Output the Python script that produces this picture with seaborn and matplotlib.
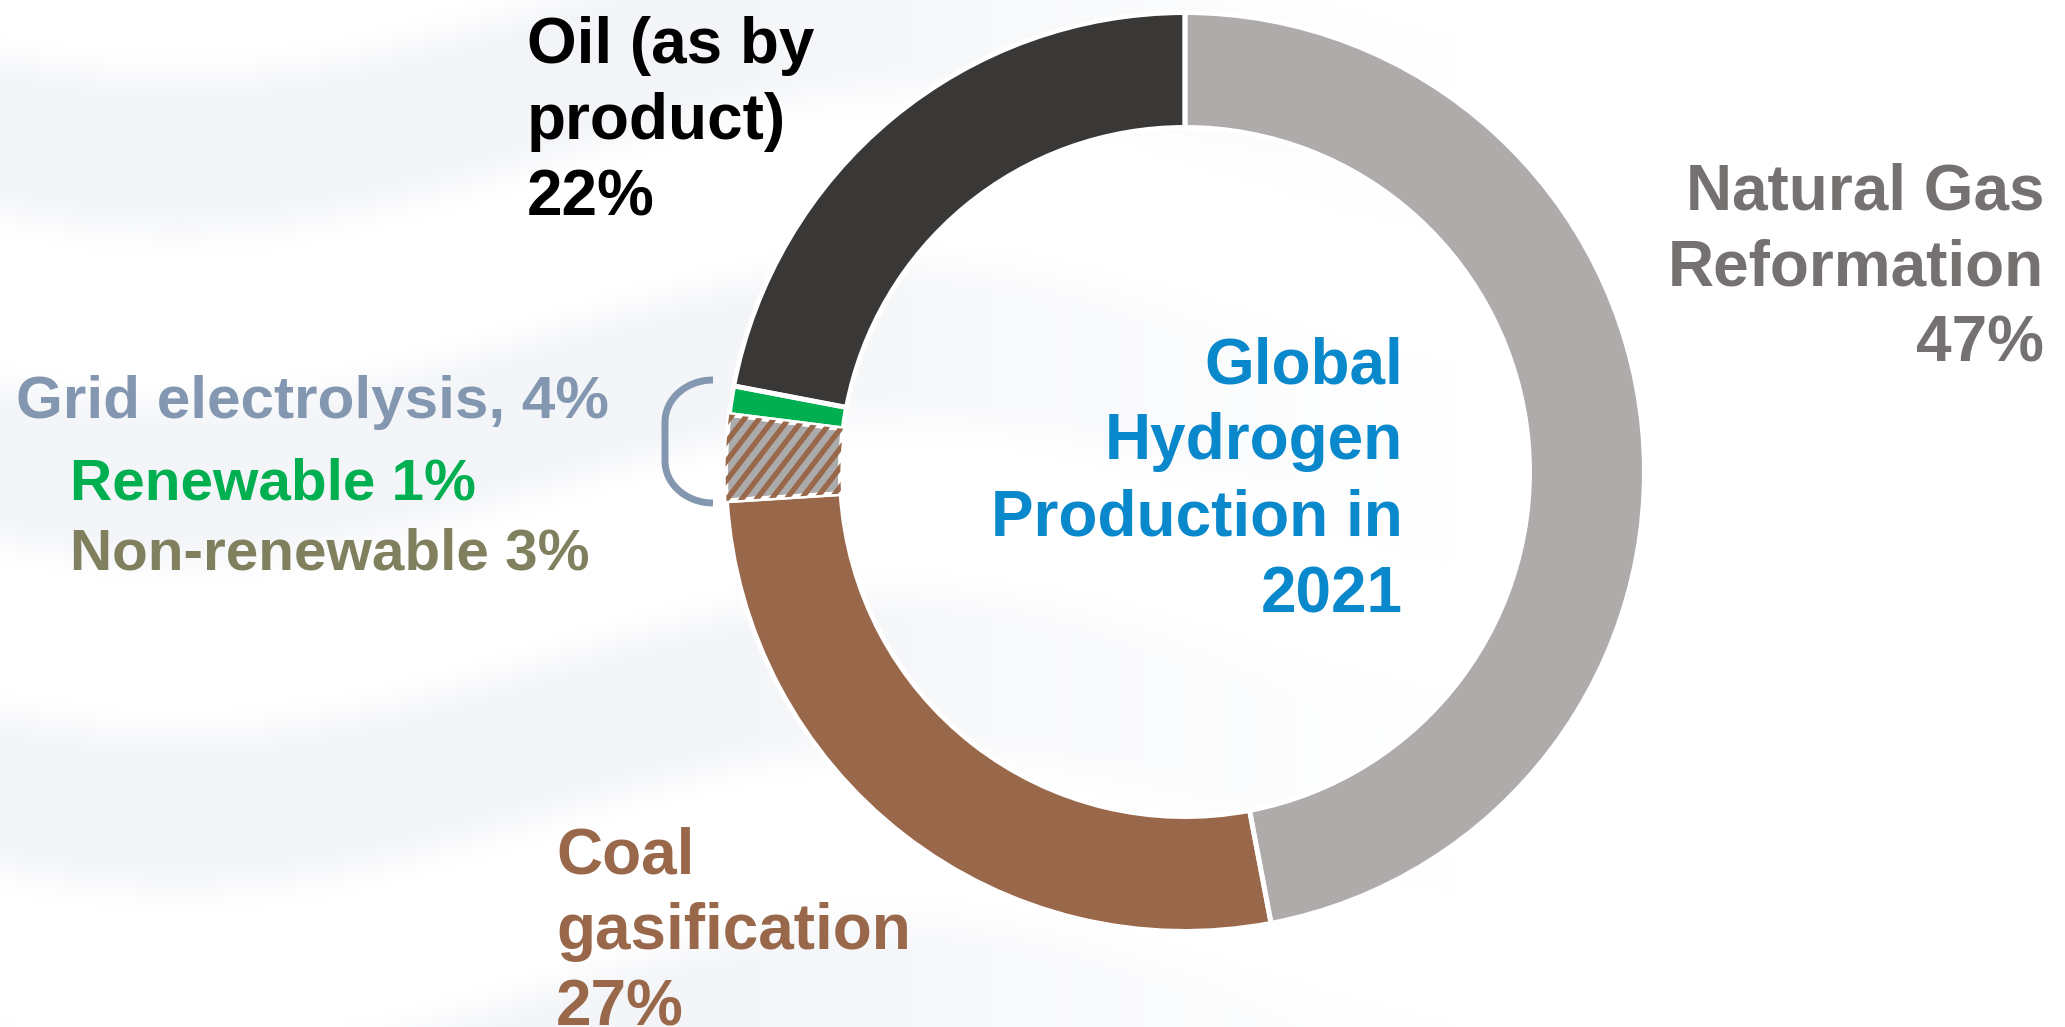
import numpy as np
import matplotlib
matplotlib.use("Agg")
import matplotlib.pyplot as plt
import seaborn as sns

# global hydrogen production by source, 2021 (%)
sources = ["Natural Gas Reformation", "Coal gasification",
           "Non-renewable grid electrolysis", "Renewable grid electrolysis",
           "Oil (as by product)"]
shares = [47, 27, 3, 1, 22]
slice_colors = ["#AFABAB", "#99674A", "#ABABAB", "#00B050", "#3A3836"]

W, H = 2065, 1027

sns.set_theme(style="white")
plt.rcParams['font.family'] = ['Liberation Sans', 'DejaVu Sans']

fig = plt.figure(figsize=(W / 100, H / 100), dpi=100)
fig.patch.set_facecolor("white")

# full-figure axes in pixel coords for background, labels and bracket
bg = fig.add_axes([0, 0, 1, 1])
bg.set_xlim(0, W)
bg.set_ylim(H, 0)
bg.axis("off")

# faint wavy background, fading out to the right
gx, gy = np.meshgrid(np.linspace(0, W, 413), np.linspace(0, H, 206))
wave = gy - 70 * np.sin(gx / 230 + 0.8)
band = 0.5 + 0.5 * np.sin(2 * np.pi * wave / 330)
band = np.clip((band - 0.35) / 0.4, 0, 1)
fade = np.clip((1450 - gx) / 750, 0, 1)
a = (0.7 * band * fade)[..., None]
shade = np.array([0.935, 0.945, 0.962])
img = (1 - a) * np.ones(3) + a * shade
bg.imshow(img, extent=[0, W, H, 0], interpolation="bilinear", aspect="auto", zorder=0)

# donut
cx, cy, r = 1185, 472, 464
ax = fig.add_axes([(cx - r) / W, (H - cy - r) / H, 2 * r / W, 2 * r / H])
wedges, _ = ax.pie(shares, colors=slice_colors, startangle=90, counterclock=False,
                   radius=1, wedgeprops=dict(width=0.25, edgecolor="white", linewidth=0))
# brown stripes on the non-renewable electrolysis slice
slope = 1.3
d = 0.0323 * slope
for c in np.arange(-2.5, 2.5, d):
    ln, = ax.plot([-1.2, 1.2], [-1.2 * slope + c, 1.2 * slope + c],
                  color=slice_colors[1], lw=3.8, solid_capstyle="butt")
    ln.set_clip_path(wedges[2])
ax.pie(shares, colors=slice_colors, startangle=90, counterclock=False, radius=1,
       wedgeprops=dict(width=0.25, edgecolor="white", linewidth=3.5, fill=False))
ax.set_xlim(-1.01, 1.01)
ax.set_ylim(-1.01, 1.01)
ax.set_aspect("equal")
ax.axis("off")

# labels
big = dict(fontsize=46, fontweight="bold", va="top", linespacing=1.35)
small = dict(fontweight="bold", va="top", ha="left")
bg.text(527, 16, "Oil (as by\nproduct)\n22%", color="black", ha="left", **big)
bg.text(2044, 162, "Natural Gas\nReformation\n47%", color="#767171", ha="right", **big)
bg.text(1403, 336, "Global\nHydrogen\nProduction in\n2021", color="#0A88CC", ha="right", **big)
bg.text(556, 826, "Coal\ngasification\n27%", color="#99674A", ha="left", **big)
bg.text(16, 375, "Grid electrolysis, 4%", color="#8497B0", fontsize=43.4, **small)
bg.text(70, 458, "Renewable 1%", color="#00B050", fontsize=42, **small)
bg.text(70, 528, "Non-renewable 3%", color="#80805F", fontsize=42, **small)

# bracket grouping the two electrolysis slices
t1 = np.linspace(np.pi / 2, np.pi, 30)
t2 = np.linspace(np.pi, 1.5 * np.pi, 30)
rx, ry = 48, 42
bx = np.concatenate([713 + rx * np.cos(t1), 713 + rx * np.cos(t2)])
by = np.concatenate([380 + ry - ry * np.sin(t1), 503 - ry - ry * np.sin(t2)])
bg.plot(bx, by, color="#8497B0", lw=5, solid_capstyle="butt", zorder=3)

fig.savefig("out.png", dpi=100, facecolor="white")
